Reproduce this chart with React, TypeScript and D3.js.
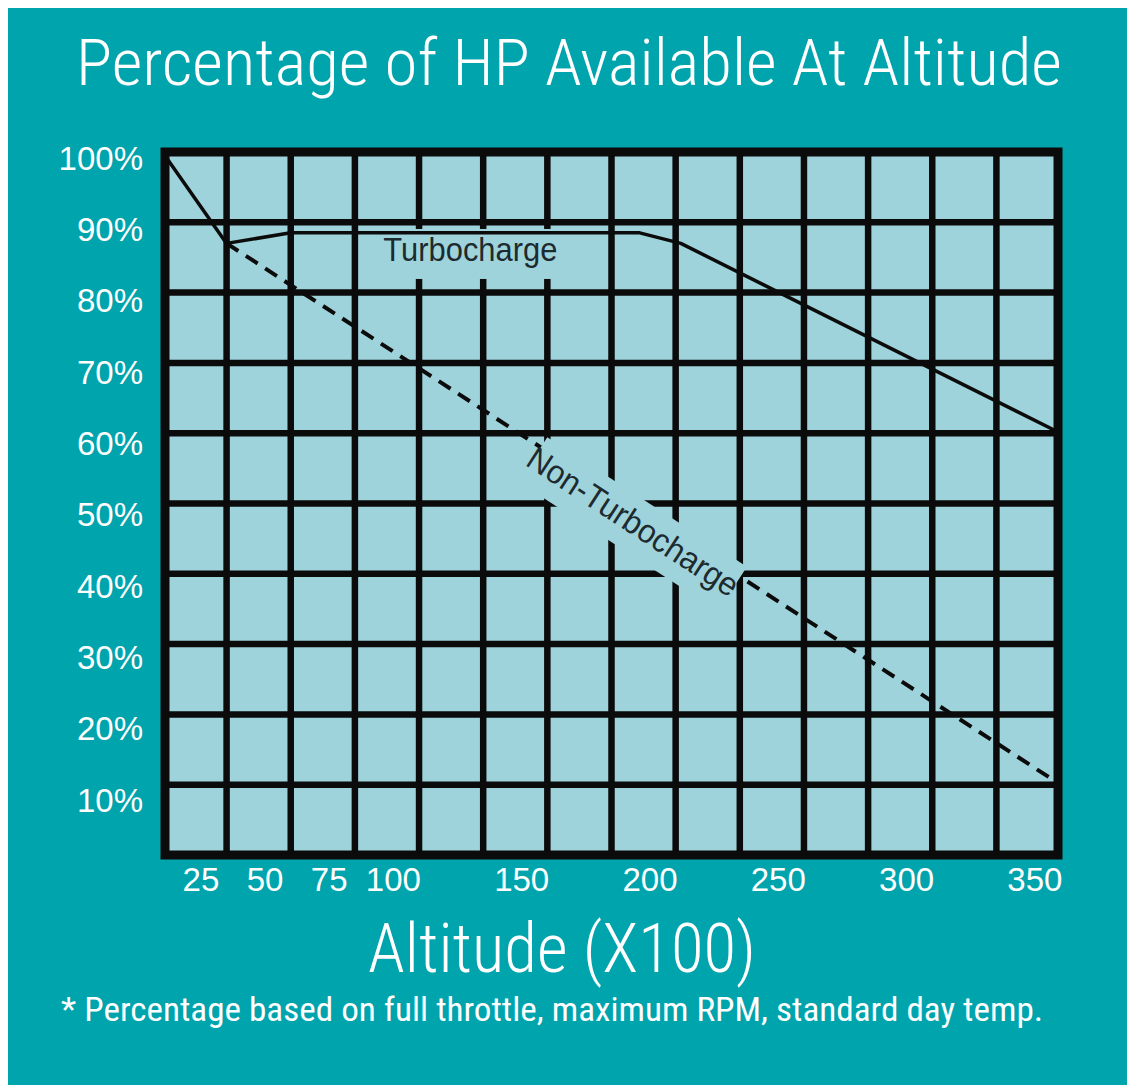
import React from "react";
import * as d3 from "d3";

// ---- data ----
const altitudeTickLabels = [25, 50, 75, 100, 150, 200, 250, 300, 350];
const altitudeGridLines = [35, 60, 85, 110, 135, 160, 185, 210, 235, 260, 285, 310, 335];
const percentTickLabels = [100, 90, 80, 70, 60, 50, 40, 30, 20, 10];
const percentGridLines = [90, 80, 70, 60, 50, 40, 30, 20, 10];

const turboAltitude = [10, 35, 60, 196, 212, 360];
const turboPercent = [100, 87, 88.5, 88.5, 87, 60];
const nonTurboAltitude = [35, 360];
const nonTurboPercent = [87, 10];

const TITLE = "Percentage of HP Available At Altitude";
const X_TITLE = "Altitude (X100)";
const FOOTNOTE = "* Percentage based on full throttle, maximum RPM, standard day temp.";
const TURBO_LABEL = "Turbocharge";
const NON_TURBO_LABEL = "Non-Turbocharge";

// ---- style ----
const W = 1133;
const H = 1085;
const TEAL = "#00a4ad";
const PLOT = "#9fd3dc";
const INK = "#0b0b0b";
const LABEL_INK = "#1d2b2e";
const SANS = "'Liberation Sans', Arial, Helvetica, sans-serif";
const NARROW = "'Roboto Condensed', Roboto, 'Liberation Sans', Arial, sans-serif";

export default function App() {
  const x = d3.scaleLinear().domain([11, 359]).range([165, 1058]);
  const y = d3.scaleLinear().domain([0, 100]).range([855, 152]);

  const turboPts: [number, number][] = turboAltitude.map((a, i) => [a, turboPercent[i]]);
  const nonTurboPts: [number, number][] = nonTurboAltitude.map((a, i) => [a, nonTurboPercent[i]]);
  const line = d3
    .line<[number, number]>()
    .x((d) => x(d[0]))
    .y((d) => y(d[1]));

  const [x0, x1] = x.domain();
  const [yTop, yBot] = [y(100), y(0)];

  // Non-turbo label placement along the dashed line
  const ntInterp = d3.scaleLinear().domain(nonTurboAltitude).range(nonTurboPercent);
  const ntAlt = 196;
  const ntX = x(ntAlt);
  const ntY = y(ntInterp(ntAlt));
  const angle =
    (Math.atan2(
      y(nonTurboPercent[1]) - y(nonTurboPercent[0]),
      x(nonTurboAltitude[1]) - x(nonTurboAltitude[0])
    ) *
      180) /
    Math.PI;

  // Turbo label anchor (data coordinates)
  const tX = x(130);
  const tY = y(84.5);

  return (
    <svg
      width={W}
      height={H}
      style={{ position: "absolute", left: 0, top: 0, display: "block" }}
    >
      <rect x={0} y={0} width={W} height={H} fill="#ffffff" />
      <rect x={8} y={8} width={1119} height={H - 8} fill={TEAL} />

      <text
        x={569}
        y={85}
        textAnchor="middle"
        fontFamily={NARROW}
        fontWeight={300}
        fontSize={64}
        fill="#ffffff"
        textLength={986}
        lengthAdjust="spacingAndGlyphs"
      >
        {TITLE}
      </text>

      {/* plot background */}
      <rect x={x(x0)} y={yTop} width={x(x1) - x(x0)} height={yBot - yTop} fill={PLOT} />

      {/* grid */}
      <g stroke={INK} strokeWidth={6.5}>
        {altitudeGridLines.map((v) => (
          <line key={"gx" + v} x1={x(v)} x2={x(v)} y1={yTop} y2={yBot} />
        ))}
        {percentGridLines.map((v) => (
          <line key={"gy" + v} x1={x(x0)} x2={x(x1)} y1={y(v)} y2={y(v)} />
        ))}
      </g>

      {/* non-turbo dashed line */}
      <path
        d={line(nonTurboPts) || ""}
        fill="none"
        stroke={INK}
        strokeWidth={4}
        strokeDasharray="14 9"
      />

      {/* Non-turbo label with knockout */}
      <g transform={`translate(${ntX},${ntY}) rotate(${angle}) translate(0,12)`}>
        <rect x={-118} y={-24} width={238} height={53} fill={PLOT} />
        <text
          x={0}
          y={0}
          textAnchor="middle"
          dominantBaseline="central"
          fontFamily={SANS}
          fontSize={33}
          fill={LABEL_INK}
          textLength={245}
          lengthAdjust="spacingAndGlyphs"
        >
          {NON_TURBO_LABEL}
        </text>
      </g>

      {/* Turbo label with knockout */}
      <rect x={tX - 110} y={tY - 32} width={220} height={50} fill={PLOT} />
      <text
        x={tX}
        y={tY}
        textAnchor="middle"
        fontFamily={SANS}
        fontSize={34}
        fill={LABEL_INK}
        textLength={174}
        lengthAdjust="spacingAndGlyphs"
      >
        {TURBO_LABEL}
      </text>

      {/* turbo line */}
      <path
        d={line(turboPts) || ""}
        fill="none"
        stroke={INK}
        strokeWidth={3.5}
        strokeLinejoin="round"
      />

      {/* frame */}
      <rect
        x={x(x0)}
        y={yTop}
        width={x(x1) - x(x0)}
        height={yBot - yTop}
        fill="none"
        stroke={INK}
        strokeWidth={9}
      />

      {/* y tick labels */}
      <g fontFamily={SANS} fontSize={33} fill="#ffffff" textAnchor="end">
        {percentTickLabels.map((v) => (
          <text key={"yl" + v} x={143} y={y(v) + 17.5 + (100 - v) * 0.106}>
            {v}%
          </text>
        ))}
      </g>

      {/* x tick labels */}
      <g fontFamily={SANS} fontSize={33} fill="#ffffff" textAnchor="middle">
        {altitudeTickLabels.map((v) => (
          <text key={"xl" + v} x={x(v)} y={891}>
            {v}
          </text>
        ))}
      </g>

      <text
        x={562}
        y={972}
        textAnchor="middle"
        fontFamily={NARROW}
        fontWeight={300}
        fontSize={68}
        fill="#ffffff"
        textLength={388}
        lengthAdjust="spacingAndGlyphs"
      >
        {X_TITLE}
      </text>

      <text
        x={552}
        y={1021}
        textAnchor="middle"
        fontFamily={NARROW}
        fontWeight={400}
        fontSize={33}
        fill="#ffffff"
        textLength={982}
        lengthAdjust="spacingAndGlyphs"
      >
        {FOOTNOTE}
      </text>
    </svg>
  );
}
